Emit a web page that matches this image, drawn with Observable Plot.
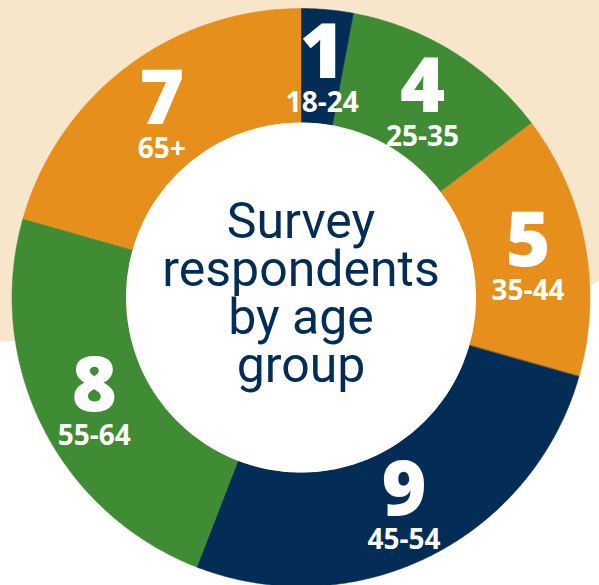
<!DOCTYPE html>
<html><head><meta charset="utf-8">
<script src="https://cdn.jsdelivr.net/npm/d3@7"></script>
<script src="https://cdn.jsdelivr.net/npm/@observablehq/plot@0.6"></script>
<style>
body{margin:0;background:#fff;}
#wrap{position:relative;width:599px;height:585px;overflow:hidden;}
#bg{position:absolute;left:0;top:0;width:599px;height:585px;background:#f8e6cb;clip-path:polygon(0 0,599px 0,599px 280px,590px 286px,0 342px);}
#chart{position:absolute;left:0;top:0;}
</style></head><body>
<div id="wrap"><div id="bg"></div><div id="chart"></div></div>
<script>
const ageGroups = ["18-24", "25-35", "35-44", "45-54", "55-64", "65+"];
const respondents = [1, 4, 5, 9, 8, 7];
const sliceColors = ["#032d57", "#408c35", "#e68f1c", "#032d57", "#408c35", "#e68f1c"];
const centerTitle = ["Survey", "respondents", "by age", "group"];

const W = 599, H = 585, cx = 300.5, cy = 297, R = 289, r0 = 175, rLabel = 231;
const rows = ageGroups.map((g, i) => ({group: g, value: respondents[i], color: sliceColors[i]}));
const arcs = d3.pie().sort(null).value(d => d.value)(rows);
const pts = [];
for (const a of arcs) {
  const n = Math.max(8, Math.ceil((a.endAngle - a.startAngle) / (Math.PI / 360)));
  for (let k = 0; k <= n; k++) {
    const t = a.startAngle + (a.endAngle - a.startAngle) * k / n;
    pts.push({key: a.data.group, color: a.data.color, x: R * Math.sin(t), y: R * Math.cos(t)});
  }
  for (let k = n; k >= 0; k--) {
    const t = a.startAngle + (a.endAngle - a.startAngle) * k / n;
    pts.push({key: a.data.group, color: a.data.color, x: r0 * Math.sin(t), y: r0 * Math.cos(t)});
  }
}
const labels = arcs.map(a => {
  const m = (a.startAngle + a.endAngle) / 2;
  return {...a.data, x: rLabel * Math.sin(m), y: rLabel * Math.cos(m)};
});

const chart = Plot.plot({
  width: W, height: H, margin: 0,
  style: {background: "transparent", overflow: "visible"},
  x: {domain: [-cx, W - cx], range: [0, W], axis: null},
  y: {domain: [cy, cy - H], range: [0, H], axis: null},
  color: {type: "identity"},
  marks: [
    Plot.line(pts, {x: "x", y: "y", z: "key", fill: "color", stroke: "color", strokeWidth: 0.5, curve: "linear-closed"}),
    Plot.dot([0], {x: 0, y: 0, r: r0, fill: "white", stroke: null}),
    Plot.text(labels, {x: "x", y: "y", text: d => String(d.value), fill: "white", fontSize: 77, fontWeight: 800, fontFamily: "Open Sans", lineAnchor: "bottom", dy: 11, textAnchor: "middle"}),
    Plot.text(labels, {x: "x", y: "y", text: "group", fill: "white", fontSize: 28, fontWeight: 700, fontFamily: "Open Sans", lineAnchor: "bottom", dy: 45, textAnchor: "middle"}),
    Plot.text([centerTitle.join("\n")], {x: 0, y: 0, text: d => d, fill: "#032d57", fontSize: 50, fontFamily: "Roboto", fontWeight: 400, lineHeight: 0.96, lineAnchor: "middle", dy: -3, textAnchor: "middle"})
  ]
});
document.getElementById("chart").appendChild(chart);
</script>
</body></html>
